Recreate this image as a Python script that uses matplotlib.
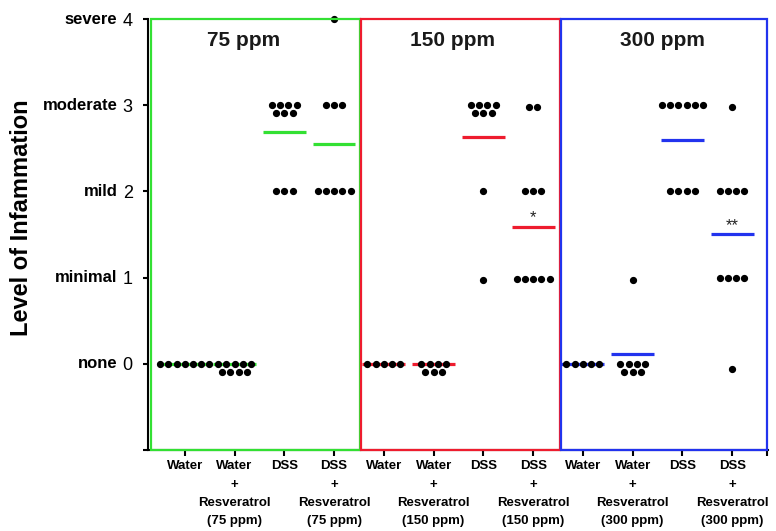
import matplotlib
matplotlib.use("Agg")
import matplotlib.pyplot as plt
from matplotlib.patches import Rectangle

plt.rcParams["font.family"] = ["Liberation Sans", "DejaVu Sans"]

# ------------------------------------------------------------
# Data (inflammation scores)
# ------------------------------------------------------------
treatments = ["Water", "Water", "DSS", "DSS"] * 3
sub_labels = [
    "", "+\nResveratrol\n(75 ppm)", "", "+\nResveratrol\n(75 ppm)",
    "", "+\nResveratrol\n(150 ppm)", "", "+\nResveratrol\n(150 ppm)",
    "", "+\nResveratrol\n(300 ppm)", "", "+\nResveratrol\n(300 ppm)",
]

water_75 = [0, 0, 0, 0, 0, 0, 0]
water_res_75 = [0, 0, 0, 0, 0, -0.09, -0.09, -0.09, -0.09]
dss_75 = [3, 3, 3, 3, 2.91, 2.91, 2.91, 2, 2, 2]
dss_res_75 = [4, 3, 3, 3, 2, 2, 2, 2, 2]

water_150 = [0, 0, 0, 0, 0]
water_res_150 = [0, 0, 0, 0, -0.09, -0.09, -0.09]
dss_150 = [3, 3, 3, 3, 2.91, 2.91, 2.91, 2, 0.97]
dss_res_150 = [2.98, 2.98, 2, 2, 2, 0.98, 0.98, 0.98, 0.98, 0.98]

water_300 = [0, 0, 0, 0, 0]
water_res_300 = [0, 0, 0, 0, -0.09, -0.09, -0.09, 0.97]
dss_300 = [3, 3, 3, 3, 3, 3, 2, 2, 2, 2]
dss_res_300 = [2.98, 2, 2, 2, 2, 1, 1, 1, 1, -0.06]

groups = [water_75, water_res_75, dss_75, dss_res_75,
          water_150, water_res_150, dss_150, dss_res_150,
          water_300, water_res_300, dss_300, dss_res_300]

means = [0, 0, 2.69, 2.55,
         0, 0, 2.63, 1.59,
         0, 0.11, 2.60, 1.50]

panel_titles = ["75 ppm", "150 ppm", "300 ppm"]
panel_colors = ["#33e033", "#ee1c2e", "#2233ee"]
stars = {8: "*", 12: "**"}

ytick_words = ["none", "minimal", "mild", "moderate", "severe"]
ytick_nums = ["0", "1", "2", "3", "4"]


def spread(center, values, step=0.165):
    # lay identical scores side by side, centred on the category
    xs, ys, seen = [], [], []
    for v in values:
        if v not in seen:
            seen.append(v)
    for v in seen:
        n = values.count(v)
        for i in range(n):
            xs.append(center + (i - (n - 1) / 2) * step)
            ys.append(v)
    return xs, ys


# ------------------------------------------------------------
# Plot
# ------------------------------------------------------------
fig = plt.figure(figsize=(7.76, 5.31), dpi=100)
ax = fig.add_axes([148 / 776, 1 - 450 / 531, 620 / 776, 431 / 531])

for i, vals in enumerate(groups):
    pos = i + 1
    color = panel_colors[i // 4]
    xs, ys = spread(pos, vals)
    ax.hlines(means[i], pos - 0.43, pos + 0.43, color=color, lw=2.3, zorder=2)
    ax.plot(xs, ys, "o", color="black", ms=4.2, zorder=3, clip_on=False)
    if pos in stars:
        ax.text(pos, means[i] + 0.02, stars[pos], ha="center", va="bottom",
                fontsize=12, color="#222222")

# coloured panel boxes
box_edges = [(0.32, 4.53), (4.55, 8.53), (8.55, 12.7)]
title_x = [2.18, 6.38, 10.6]
for (x0, x1), col, title, tx in zip(box_edges, panel_colors, panel_titles, title_x):
    ax.add_patch(Rectangle((x0, -1), x1 - x0, 5, fill=False, edgecolor=col,
                           lw=1.6, zorder=4, clip_on=False))
    ax.text(tx, 3.75, title, ha="center", va="center", fontsize=15,
            fontweight="bold", color="#1a1a1a")

ax.set_xlim(0.26, 12.72)
ax.set_ylim(-1, 4)

ax.set_xticks(list(range(1, 13)) + [12.7])
ax.set_xticklabels(treatments + [""], fontsize=9.5, fontweight="bold")
for pos, sub in zip(range(1, 13), sub_labels):
    if sub:
        ax.annotate(sub, xy=(pos, 0), xycoords=ax.get_xaxis_transform(),
                    xytext=(0, -21), textcoords="offset points",
                    ha="center", va="top", fontsize=9.5, fontweight="bold",
                    linespacing=1.65)

ax.set_yticks([-1, 0, 1, 2, 3, 4])
ax.set_yticklabels([""] + ytick_nums, fontsize=13)

for y, word in zip(range(5), ytick_words):
    ax.annotate(word, xy=(0, y), xycoords=ax.get_yaxis_transform(),
                xytext=(-22, 0), textcoords="offset points",
                ha="right", va="center", fontsize=12, fontweight="bold")

ax.set_ylabel("Level of Infammation", fontsize=17, fontweight="bold")
ax.yaxis.set_label_coords(-0.185, 0.54)

ax.spines["top"].set_visible(False)
ax.spines["right"].set_visible(False)
ax.spines["left"].set_linewidth(1.5)
ax.spines["bottom"].set_linewidth(1.5)
ax.tick_params(axis="y", length=3.5, width=1.5, pad=7.5)
ax.tick_params(axis="x", length=4, width=1.5, pad=3)

fig.savefig("out.png", dpi=100)
